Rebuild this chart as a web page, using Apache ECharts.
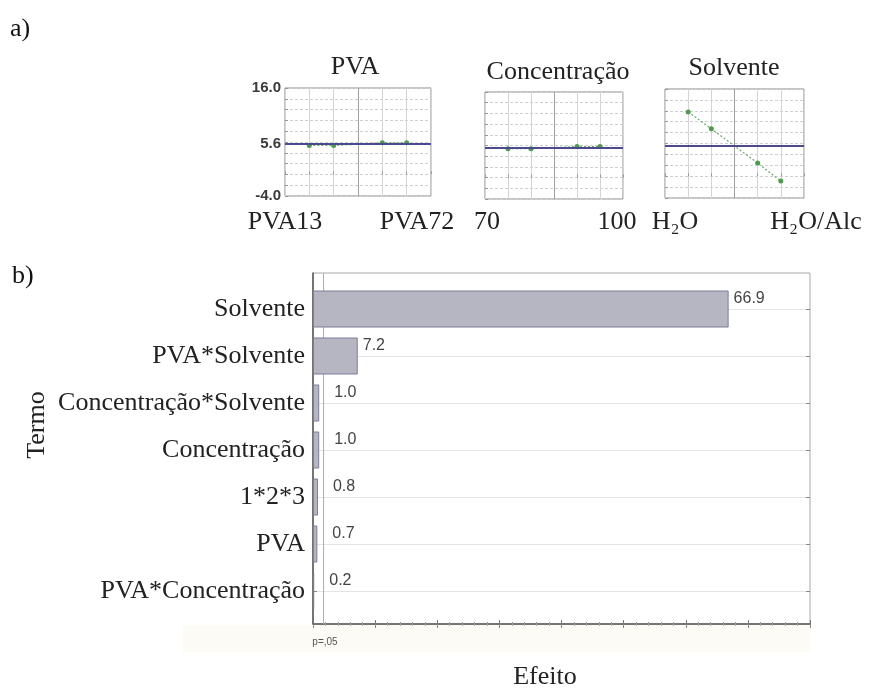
<!DOCTYPE html>
<html><head><meta charset="utf-8">
<script src="https://cdn.jsdelivr.net/npm/echarts@6/dist/echarts.min.js"></script>
<style>html,body{margin:0;padding:0;background:#fff}#c{width:871px;height:690px}</style>
</head><body><div id="c"></div>
<script>
// ---- data ----
const panelTitles = ['PVA', 'Concentração', 'Solvente'];
const panelLowLabels = ['PVA13', '70', 'H₂O'];
const panelHighLabels = ['PVA72', '100', 'H₂O/Alc'];
const panelX = [1, 2, 4, 5];
const pvaMeans = [5.35, 5.35, 5.85, 5.85];
const concMeans = [5.4, 5.4, 5.8, 5.8];
const solvMeans = [11.8, 8.7, 2.4, -0.9];
const grandMean = 5.6;
const panelYMin = -4.0, panelYMax = 16.0;
const terms = ['Solvente', 'PVA*Solvente', 'Concentração*Solvente', 'Concentração', '1*2*3', 'PVA', 'PVA*Concentração'];
const effects = [66.9, 7.2, 1.0, 1.0, 0.8, 0.7, 0.2];
const pCritical = 1.7;
const pLabel = 'p=,05';
const xTitle = 'Efeito', yTitle = 'Termo';

// ---- layout ----
const SERIF = '"Liberation Serif", "Times New Roman", serif';
const SANS = '"Liberation Sans", Arial, sans-serif';
const FS = 26;
const TXT = '#222';
const panelLayout = [
  {left: 285, top: 88, width: 146, height: 108, margin: 13, lowPad: [0,0,0,0], highPad: [0,28,0,0]},
  {left: 485, top: 92, width: 138, height: 107, margin: 10, lowPad: [0,0,0,4], highPad: [0,12,0,0]},
  {left: 665, top: 89, width: 139, height: 109, margin: 11, lowPad: [0,0,0,20], highPad: [0,0,0,24]}
];
const panelSeries = [pvaMeans, concMeans, solvMeans];

const grids = [], xAxes = [], yAxes = [], series = [];
panelLayout.forEach((p, i) => {
  grids.push({left: p.left, top: p.top, width: p.width, height: p.height, show: true, borderColor: '#8a8a8a', borderWidth: 1, backgroundColor: '#fff'});
  xAxes.push({
    type: 'value', gridIndex: i, min: 0, max: 6, interval: 1,
    axisLine: {show: false},
    axisTick: {show: true, inside: true, length: 3, lineStyle: {color: '#999'}},
    splitLine: {show: true, lineStyle: {color: ['#d4d4d4', '#d4d4d4', '#d4d4d4', '#a0a0a0', '#d4d4d4', '#d4d4d4', '#d4d4d4'], width: 1}},
    axisLabel: {
      show: true, margin: p.margin, showMinLabel: true, showMaxLabel: true,
      formatter: v => v === 0 ? '{l|' + panelLowLabels[i] + '}' : (v === 6 ? '{h|' + panelHighLabels[i] + '}' : ''),
      rich: {
        l: {fontFamily: SERIF, fontSize: FS, color: TXT, padding: p.lowPad},
        h: {fontFamily: SERIF, fontSize: FS, color: TXT, padding: p.highPad}
      }
    }
  });
  yAxes.push({
    type: 'value', gridIndex: i, min: panelYMin, max: panelYMax, interval: 2,
    axisLine: {show: false},
    axisTick: {show: true, inside: true, length: 3, lineStyle: {color: '#999'}},
    splitLine: {show: true, lineStyle: {color: '#cfcfcf', type: [3, 2], width: 1}},
    axisLabel: {
      show: i === 0, margin: 4, showMinLabel: true, showMaxLabel: true,
      fontFamily: SANS, fontSize: 15, fontWeight: 'bold', color: '#3a3a3a',
      formatter: v => (v === panelYMin || v === panelYMax) ? v.toFixed(1) : ''
    }
  });
  series.push({
    type: 'line', xAxisIndex: i, yAxisIndex: i,
    data: panelX.map((x, k) => [x, panelSeries[i][k]]),
    symbol: 'circle', symbolSize: 5,
    itemStyle: {color: '#4e9a4e'},
    lineStyle: {color: '#6aa86a', width: 1.2, type: [2, 2]},
    z: 3,
    markLine: {
      silent: true, symbol: 'none', animation: false,
      lineStyle: {color: '#4a4a8c', width: 2, type: 'solid'},
      label: {show: i === 0, position: 'start', distance: 4, formatter: grandMean.toFixed(1), fontFamily: SANS, fontSize: 15, fontWeight: 'bold', color: '#3a3a3a'},
      data: [{yAxis: grandMean}]
    }
  });
});

// frame grid (index 3): xAxis 3 (bottom), xAxis 4 (top), yAxis 3
grids.push({left: 313, top: 273, width: 497, height: 351, show: true, borderColor: '#a8a8a8', borderWidth: 1, backgroundColor: '#fff'});
xAxes.push({
  type: 'value', gridIndex: 3, min: 0, max: 80, interval: 10, position: 'bottom',
  axisLine: {show: true, onZero: false, lineStyle: {color: '#555', width: 1.5}},
  axisTick: {show: true, inside: true, length: 4, lineStyle: {color: '#777'}},
  minorTick: {show: true, splitNumber: 5, length: 2, lineStyle: {color: '#999'}},
  axisLabel: {show: false}, splitLine: {show: false}
});
xAxes.push({
  type: 'value', gridIndex: 3, min: 0, max: 80, interval: 10, position: 'top',
  axisLine: {show: false},
  axisTick: {show: true, inside: true, length: 4, lineStyle: {color: '#888'}},
  minorTick: {show: true, splitNumber: 5, length: 2, lineStyle: {color: '#aaa'}},
  axisLabel: {show: false}, splitLine: {show: false}
});
yAxes.push({
  type: 'value', gridIndex: 3, min: 0, max: 1,
  axisLine: {show: true, onZero: false, lineStyle: {color: '#555', width: 1.5}},
  axisTick: {show: false}, axisLabel: {show: false}, splitLine: {show: false}
});
series.push({
  type: 'line', xAxisIndex: 3, yAxisIndex: 3,
  data: [[pCritical, 0], [pCritical, 1]],
  showSymbol: false, symbol: 'none', silent: true,
  lineStyle: {color: '#a9a9cc', width: 1}, z: 1
});

// bar grid (index 4): xAxis 5, yAxis 4 (left), yAxis 5 (right)
grids.push({left: 313, top: 309, width: 497, height: 282, show: false});
xAxes.push({
  type: 'value', gridIndex: 4, min: 0, max: 80,
  axisLine: {show: false}, axisTick: {show: false}, axisLabel: {show: false}, splitLine: {show: false}
});
yAxes.push({
  type: 'category', gridIndex: 4, data: terms, inverse: true, boundaryGap: false,
  axisLine: {show: false},
  axisTick: {show: true, inside: true, length: 4, lineStyle: {color: '#888'}},
  splitLine: {show: true, lineStyle: {color: '#e4e4e4', width: 1}},
  axisLabel: {margin: 8, fontFamily: SERIF, fontSize: FS, color: TXT}
});
yAxes.push({
  type: 'category', gridIndex: 4, data: terms, inverse: true, boundaryGap: false, position: 'right',
  axisLine: {show: false},
  axisTick: {show: true, inside: true, length: 4, lineStyle: {color: '#888'}},
  splitLine: {show: false}, axisLabel: {show: false}
});
series.push({
  type: 'bar', xAxisIndex: 5, yAxisIndex: 4, clip: false, barWidth: 37, z: 2,
  data: effects.map(v => ({value: v, label: {offset: v < 2 ? [10, -10] : [0, -10]}})),
  itemStyle: {color: '#b6b6c3', borderColor: '#7d7d98', borderWidth: 1},
  label: {show: true, position: 'right', distance: 5, formatter: p => p.value.toFixed(1), fontFamily: SANS, fontSize: 16, color: '#444'}
});

const graphic = [
  {type: 'rect', shape: {x: 183, y: 625, width: 627, height: 27}, style: {fill: '#fdfbf6'}, z: -10},
  {type: 'text', x: 10, y: 29, style: {text: 'a)', font: FS + 'px ' + SERIF, fill: '#111', align: 'left', verticalAlign: 'middle'}},
  {type: 'text', x: 12, y: 276, style: {text: 'b)', font: FS + 'px ' + SERIF, fill: '#111', align: 'left', verticalAlign: 'middle'}},
  {type: 'text', x: 355, y: 67, style: {text: panelTitles[0], font: FS + 'px ' + SERIF, fill: TXT, align: 'center', verticalAlign: 'middle'}},
  {type: 'text', x: 558, y: 72, style: {text: panelTitles[1], font: FS + 'px ' + SERIF, fill: TXT, align: 'center', verticalAlign: 'middle'}},
  {type: 'text', x: 734, y: 68, style: {text: panelTitles[2], font: FS + 'px ' + SERIF, fill: TXT, align: 'center', verticalAlign: 'middle'}},
  {type: 'text', x: 37, y: 425, rotation: Math.PI / 2, style: {text: yTitle, font: FS + 'px ' + SERIF, fill: TXT, align: 'center', verticalAlign: 'middle'}},
  {type: 'text', x: 545, y: 677, style: {text: xTitle, font: FS + 'px ' + SERIF, fill: TXT, align: 'center', verticalAlign: 'middle'}},
  {type: 'text', x: 325, y: 642, style: {text: pLabel, font: '10px ' + SANS, fill: '#555', align: 'center', verticalAlign: 'middle'}}
];

const chart = echarts.init(document.getElementById('c'), null, {renderer: 'canvas'});
chart.setOption({
  animation: false,
  backgroundColor: '#fff',
  grid: grids, xAxis: xAxes, yAxis: yAxes, series: series, graphic: graphic
});
</script></body></html>
